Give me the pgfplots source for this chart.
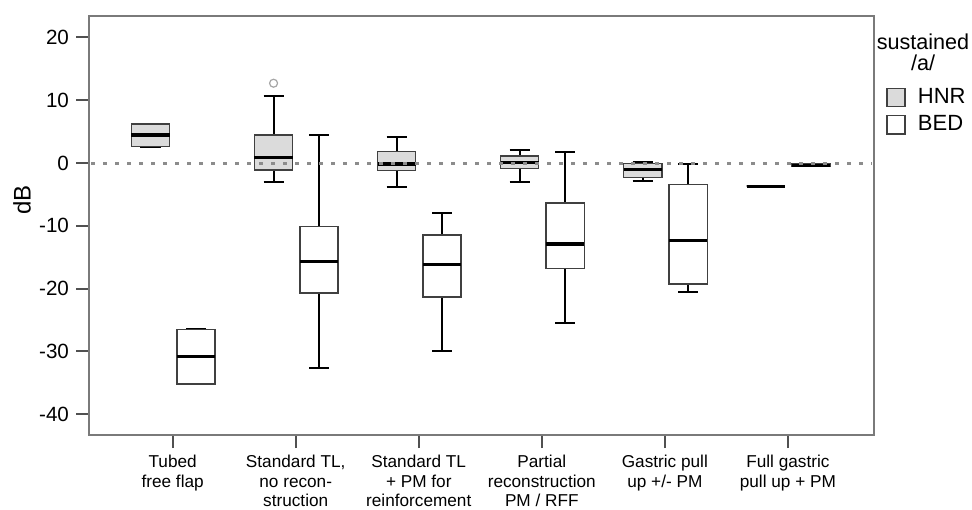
\documentclass[border=0pt]{standalone}
\usepackage{fontspec}
\setmainfont{Liberation Sans}
\usepackage{pgfplots}
\pgfplotsset{compat=1.18}
\usepgfplotslibrary{statistics}
\usetikzlibrary{calc}

\definecolor{hnrfill}{HTML}{DBDBDB}
\definecolor{boxedge}{HTML}{404040}
\definecolor{axisgray}{HTML}{7A7A7A}
\definecolor{tickgray}{HTML}{505050}
\definecolor{refgray}{HTML}{8C8C8C}

\pgfplotsset{
  boxplot/draw direction=y,
  boxplot/box extend=0.31,
  boxplot/whisker extend=0.163,
  boxplot/every box/.style={draw=boxedge, line width=0.75pt},
  boxplot/every whisker/.style={draw=black, fill=none, line width=1pt},
  boxplot/every median/.style={draw=black, line width=1.6pt},
  hnr/.style={forget plot, fill=hnrfill, draw=black, mark=none},
  bed/.style={forget plot, fill=white, draw=black, mark=none},
}

\begin{document}
\begin{tikzpicture}
\begin{axis}[
    scale only axis,
    width=392.5pt, height=209.5pt,
    xmin=0.32, xmax=6.70,
    ymin=-43.3, ymax=23.4,
    xtick={1,2,3,4,5,6},
    xticklabels={{Tubed\\free flap},{Standard TL,\\no recon-\\struction},{Standard TL\\+ PM for\\reinforcement},{Partial\\reconstruction\\PM / RFF},{Gastric pull\\up +/- PM},{Full gastric\\pull up + PM}},
    ytick={-40,-30,-20,-10,0,10,20},
    xtick pos=bottom, ytick pos=left,
    tick align=outside,
    major tick length=6.5pt,
    axis line style={draw=axisgray, line width=1pt},
    tick style={draw=tickgray, line width=1pt},
    /pgf/number format/assume math mode=true,
    yticklabel style={font=\fontsize{10.3}{12}\selectfont},
    xticklabel style={font=\fontsize{8.6}{9.8}\selectfont, align=center, anchor=north},
    ylabel={dB},
    every axis y label/.style={at={(axis description cs:-0.0854,0.561)}, rotate=90, anchor=center, font=\fontsize{12}{14}\selectfont},
    legend style={at={(axis description cs:1,1)}, anchor=north west, xshift=3pt, yshift=-32pt,
        draw=none, fill=none, font=\fontsize{11}{13}\selectfont, row sep=0.5pt,
        /tikz/every odd column/.append style={column sep=4pt}},
    legend cell align=left,
]
% HNR (grey boxes)
\addplot[hnr, boxplot prepared={draw position=0.82, lower whisker=2.6, lower quartile=2.6, median=4.45, upper quartile=6.2, upper whisker=6.2}] coordinates {};
\addplot[hnr, mark=o, mark size=2pt, mark options={draw=gray!70, fill=none, line width=0.6pt},
  boxplot prepared={draw position=1.82, lower whisker=-3.1, lower quartile=-1.1, median=0.85, upper quartile=4.45, upper whisker=10.6}] coordinates {(0,12.7)};
\addplot[hnr, boxplot prepared={draw position=2.82, lower whisker=-3.8, lower quartile=-1.2, median=-0.15, upper quartile=1.8, upper whisker=4.2}] coordinates {};
\addplot[hnr, boxplot prepared={draw position=3.82, lower whisker=-3.1, lower quartile=-0.85, median=0.05, upper quartile=1.1, upper whisker=2.05}] coordinates {};
\addplot[hnr, boxplot prepared={draw position=4.82, lower whisker=-2.9, lower quartile=-2.3, median=-1.0, upper quartile=-0.1, upper whisker=0.2}] coordinates {};
\addplot[hnr, boxplot prepared={draw position=5.82, lower whisker=-3.7, lower quartile=-3.7, median=-3.7, upper quartile=-3.7, upper whisker=-3.7}] coordinates {};
% BED (white boxes)
\addplot[bed, boxplot prepared={draw position=1.19, lower whisker=-35.2, lower quartile=-35.2, median=-30.8, upper quartile=-26.5, upper whisker=-26.5}] coordinates {};
\addplot[bed, boxplot prepared={draw position=2.19, lower whisker=-32.7, lower quartile=-20.7, median=-15.7, upper quartile=-10.1, upper whisker=4.45}] coordinates {};
\addplot[bed, boxplot prepared={draw position=3.19, lower whisker=-30.0, lower quartile=-21.3, median=-16.2, upper quartile=-11.5, upper whisker=-7.9}] coordinates {};
\addplot[bed, boxplot prepared={draw position=4.19, lower whisker=-25.4, lower quartile=-16.8, median=-12.9, upper quartile=-6.4, upper whisker=1.8}] coordinates {};
\addplot[bed, boxplot prepared={draw position=5.19, lower whisker=-20.6, lower quartile=-19.3, median=-12.3, upper quartile=-3.4, upper whisker=-0.2}] coordinates {};
\addplot[bed, boxplot prepared={draw position=6.19, lower whisker=-0.5, lower quartile=-0.5, median=-0.4, upper quartile=-0.1, upper whisker=-0.1}] coordinates {};
% reference line at 0 dB
\addplot[forget plot, draw=refgray, line width=1.5pt, dash pattern=on 1.6pt off 4.4pt] coordinates {(0.34,0) (6.68,0)};
% legend
\addlegendimage{legend image code/.code={\draw[fill=hnrfill, draw=boxedge, line width=0.75pt] (0pt,-4.6pt) rectangle (9pt,4.6pt);}}
\addlegendentry{HNR}
\addlegendimage{legend image code/.code={\draw[fill=white, draw=boxedge, line width=0.75pt] (0pt,-4.6pt) rectangle (9pt,4.6pt);}}
\addlegendentry{BED}
\end{axis}
\node[align=center, font=\fontsize{10.8}{10.5}\selectfont] at ($(current axis.north east)+(24.5pt,-18pt)$) {sustained\\/a/};
\pgfresetboundingbox
\path[use as bounding box] ($(current axis.south west)+(-44.5pt,-37pt)$) rectangle ($(current axis.north east)+(49pt,8pt)$);
\end{tikzpicture}
\end{document}
